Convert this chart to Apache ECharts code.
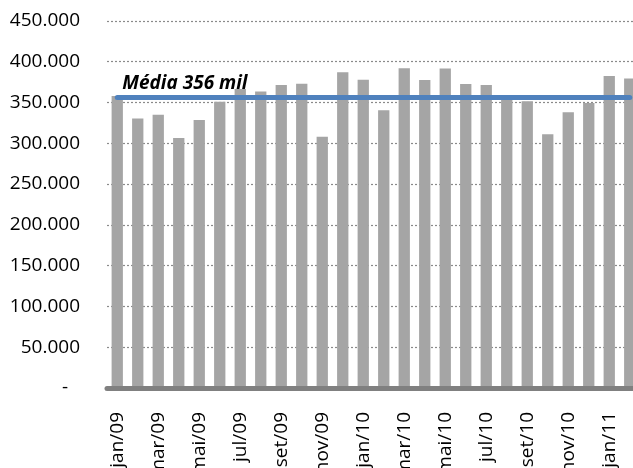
<!DOCTYPE html>
<html>
<head>
<meta charset="utf-8">
<script src="https://cdn.jsdelivr.net/npm/echarts@6/dist/echarts.min.js"></script>
<style>
  html, body { margin: 0; padding: 0; background: #fff; }
  #chart { width: 633px; height: 468px; }
</style>
</head>
<body>
<div id="chart"></div>
<script>
const categories = [
  'jan/09','fev/09','mar/09','abr/09','mai/09','jun/09','jul/09','ago/09','set/09','out/09','nov/09','dez/09',
  'jan/10','fev/10','mar/10','abr/10','mai/10','jun/10','jul/10','ago/10','set/10','out/10','nov/10','dez/10',
  'jan/11','fev/11'
];
const values = [
  358000, 330500, 335000, 306500, 328500, 351000, 366500, 363500, 371500, 373000, 308000, 387000,
  378000, 340500, 392000, 377500, 391500, 372500, 371500, 356000, 351500, 311000, 338000, 349500,
  382500, 379500
];
const mediaValue = 356000;
const mediaLabel = 'Média 356 mil';
const yTicks = { min: 0, max: 450000, interval: 50000 };

const FONT = '"Open Sans", "Liberation Sans", sans-serif';

function fmt(v) {
  if (v === 0) return '{z|-}';
  return String(v).replace(/\B(?=(\d{3})+(?!\d))/g, '.');
}

const chart = echarts.init(document.getElementById('chart'), null, { renderer: 'canvas' });
chart.setOption({
  animation: false,
  backgroundColor: '#ffffff',
  grid: { left: 107, width: 533, top: 20.9, height: 367.1, containLabel: false, outerBoundsMode: 'none' },
  xAxis: {
    type: 'category',
    data: categories,
    boundaryGap: true,
    z: 10,
    axisLine: { show: true, lineStyle: { color: '#808080', width: 5 } },
    axisTick: { show: false },
    axisLabel: {
      interval: 1,
      rotate: 90,
      margin: 24,
      color: '#000',
      fontFamily: FONT,
      fontSize: 19,
      hideOverlap: false
    },
    splitLine: { show: false }
  },
  yAxis: {
    type: 'value',
    min: yTicks.min,
    max: yTicks.max,
    interval: yTicks.interval,
    axisLine: { show: false },
    axisTick: { show: false },
    axisLabel: {
      margin: 27,
      color: '#000',
      fontFamily: FONT,
      fontSize: 19,
      formatter: fmt,
      rich: { z: { fontFamily: FONT, fontSize: 19, color: '#000', padding: [0, 12, 0, 0] } }
    },
    splitLine: {
      show: true,
      lineStyle: { color: '#8a8a8a', width: 1.2, type: [2, 2] }
    }
  },
  series: [
    {
      type: 'bar',
      data: values,
      barWidth: 11.3,
      itemStyle: { color: '#a5a5a5' },
      z: 2,
      markLine: {
        silent: true,
        symbol: 'none',
        animation: false,
        lineStyle: { color: '#4f81bd', width: 5, type: 'solid', cap: 'round' },
        label: {
          show: true,
          position: 'insideStartTop',
          formatter: mediaLabel,
          color: '#000',
          fontFamily: FONT,
          fontSize: 19,
          fontWeight: 'bold',
          fontStyle: 'italic',
          distance: [5, 4]
        },
        data: [[
          { coord: [0, mediaValue] },
          { coord: [categories.length - 1, mediaValue] }
        ]]
      }
    }
  ]
});
</script>
</body>
</html>
